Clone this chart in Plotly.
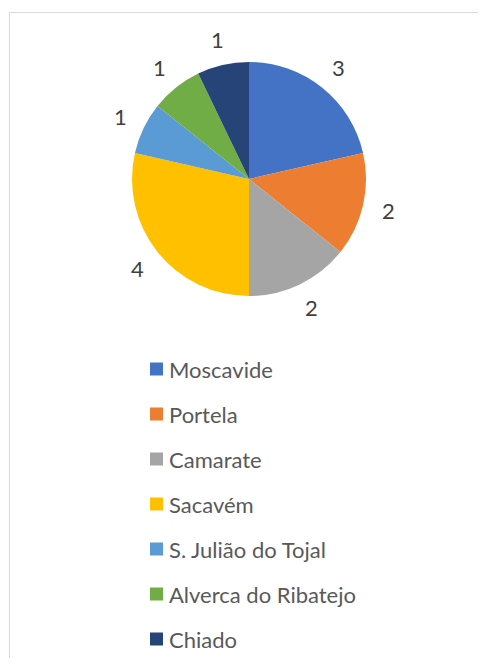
import math
import plotly.graph_objects as go

labels = ["Moscavide", "Portela", "Camarate", "Sacavém", "S. Julião do Tojal", "Alverca do Ribatejo", "Chiado"]
values = [3, 2, 2, 4, 1, 1, 1]
colors = ["#4472C4", "#ED7D31", "#A5A5A5", "#FFC000", "#5B9BD5", "#70AD47", "#264478"]

OFF = 8  # page body margin
W, H = 486 - OFF, 666 - 2 * OFF
cx, cy, R = 249 - OFF, 179 - OFF, 117  # pixels
label_dist = 143
FONT = "Lato"

def px(x):
    return x / W

def py(y):
    return 1 - y / H

fig = go.Figure(go.Pie(
    labels=labels, values=values, sort=False, direction="clockwise", rotation=0,
    marker=dict(colors=colors, line=dict(width=0)),
    textinfo="none", hoverinfo="label+value", showlegend=False,
    domain=dict(x=[px(cx - R), px(cx + R)], y=[py(cy + R), py(cy - R)]),
))

annotations = []
total = sum(values)
cum = 0
for v in values:
    mid = (cum + v / 2) / total * 2 * math.pi
    cum += v
    lx = cx + label_dist * math.sin(mid)
    ly = cy - label_dist * math.cos(mid)
    annotations.append(dict(x=px(lx), y=py(ly), xref="paper", yref="paper", text=str(v),
                            showarrow=False, xanchor="center", yanchor="middle",
                            font=dict(family=FONT, size=22, color="#404040")))

bx, by = 9.5 - OFF, 12.5 - OFF
shapes = [
    dict(type="line", xref="paper", yref="paper", x0=px(bx), x1=1.0, y0=py(by), y1=py(by),
         line=dict(color="#D9D9D9", width=1)),
    dict(type="line", xref="paper", yref="paper", x0=px(bx), x1=px(bx), y0=py(by), y1=0.0,
         line=dict(color="#D9D9D9", width=1)),
]

leg_y0, leg_dy = 369 - OFF, 45
lx0 = 150 - OFF
sq = 13
for i, (lab, col) in enumerate(zip(labels, colors)):
    yy = leg_y0 + i * leg_dy
    shapes.append(dict(type="rect", xref="paper", yref="paper",
                       x0=px(lx0), x1=px(lx0 + sq), y0=py(yy + sq / 2), y1=py(yy - sq / 2),
                       line=dict(width=0), fillcolor=col))
    annotations.append(dict(x=px(lx0 + 17), y=py(yy), xref="paper", yref="paper", text=lab,
                            showarrow=False, xanchor="left", yanchor="middle",
                            font=dict(family=FONT, size=22, color="#595959")))

fig.update_layout(width=W, height=H, margin=dict(l=0, r=0, t=0, b=0),
                  paper_bgcolor="white", plot_bgcolor="white",
                  annotations=annotations, shapes=shapes)
fig.write_html("out.html")
